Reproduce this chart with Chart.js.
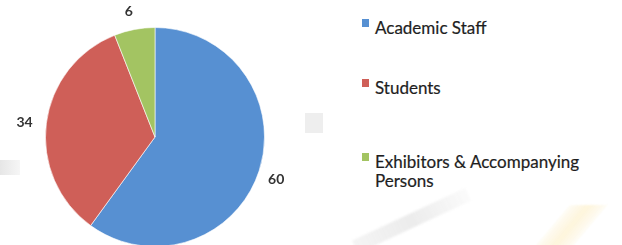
<!DOCTYPE html>
<html>
<head>
<meta charset="utf-8">
<script src="https://cdn.jsdelivr.net/npm/chart.js@4/dist/chart.umd.min.js"></script>
<style>
  html, body { margin:0; padding:0; width:622px; height:245px; overflow:hidden; background:#fff; }
  #wrap { position:relative; width:622px; height:245px; }
  .deco { position:absolute; pointer-events:none; }
  #chartBox { position:absolute; left:0; top:0; width:310px; height:250px; }
  #legend { position:absolute; left:362px; top:0; font-family: Lato, "Open Sans", sans-serif; font-size:17px; color:#1e1e1e; -webkit-text-stroke:0.2px #1e1e1e; }
  .item { position:absolute; left:0; white-space:nowrap; }
  .sw { position:absolute; left:0; width:7px; height:8px; }
  .txt { position:absolute; left:13px; line-height:19px; }
</style>
</head>
<body>
<div id="wrap">
  <div class="deco" style="left:0;top:160px;width:20px;height:15px;background:linear-gradient(90deg,#e6e6e6,#f6f6f6);"></div>
  <div class="deco" style="left:305px;top:113px;width:18px;height:20px;background:#eeeeee;"></div>
  <div class="deco" style="left:355px;top:240px;width:125px;height:14px;background:linear-gradient(90deg,rgba(225,225,225,0.35),rgba(220,220,220,0.55),rgba(235,235,235,0.2));transform:rotate(-25deg);transform-origin:left center;filter:blur(1px);"></div>
  <div class="deco" style="left:552px;top:205px;width:38px;height:42px;background:linear-gradient(90deg,rgba(252,242,210,0.2),rgba(252,238,195,0.6),rgba(252,242,210,0.2));transform:skewX(-40deg);filter:blur(1px);"></div>
  <div id="chartBox"><canvas id="c"></canvas></div>
  <div id="legend"></div>
</div>
<script>
const categories = ["Academic Staff", "Students", "Exhibitors & Accompanying Persons"];
const values = [60, 34, 6];
const colors = ["#5790d2", "#cf5f58", "#a3c462"];
const legendLines = [["Academic Staff"], ["Students"], ["Exhibitors & Accompanying", "Persons"]];

const labelPlugin = {
  id: 'outLabels',
  afterDatasetsDraw(chart) {
    const ctx = chart.ctx;
    const meta = chart.getDatasetMeta(0);
    ctx.save();
    ctx.font = 'bold 14px Lato, "Open Sans", sans-serif';
    ctx.fillStyle = '#333333';
    ctx.textAlign = 'center';
    ctx.textBaseline = 'middle';
    meta.data.forEach((arc, i) => {
      const p = arc.getProps(['x','y','startAngle','endAngle','outerRadius'], true);
      const mid = (p.startAngle + p.endAngle) / 2;
      const r = p.outerRadius + 20;
      ctx.fillText(String(chart.data.datasets[0].data[i]), p.x + Math.cos(mid) * r - 2, p.y + Math.sin(mid) * r + 2);
    });
    ctx.restore();
  }
};

new Chart(document.getElementById('c'), {
  type: 'pie',
  data: {
    labels: categories,
    datasets: [{ data: values, backgroundColor: colors, borderColor: 'rgba(255,255,255,0.6)', borderWidth: 1 }]
  },
  options: {
    responsive: true,
    maintainAspectRatio: false,
    animation: false,
    layout: { padding: { top: 27, bottom: 3, left: 45, right: 45 } },
    plugins: { legend: { display: false }, tooltip: { enabled: false } }
  },
  plugins: [labelPlugin]
});

// HTML legend
const legend = document.getElementById('legend');
const tops = [18, 78, 152];
categories.forEach((cat, i) => {
  const item = document.createElement('div');
  item.className = 'item';
  item.style.top = tops[i] + 'px';
  const sw = document.createElement('div');
  sw.className = 'sw';
  sw.style.top = '1px';
  sw.style.background = colors[i];
  const txt = document.createElement('div');
  txt.className = 'txt';
  txt.style.top = '0px';
  txt.innerHTML = legendLines[i].join('<br>');
  item.appendChild(sw);
  item.appendChild(txt);
  legend.appendChild(item);
});
</script>
</body>
</html>
